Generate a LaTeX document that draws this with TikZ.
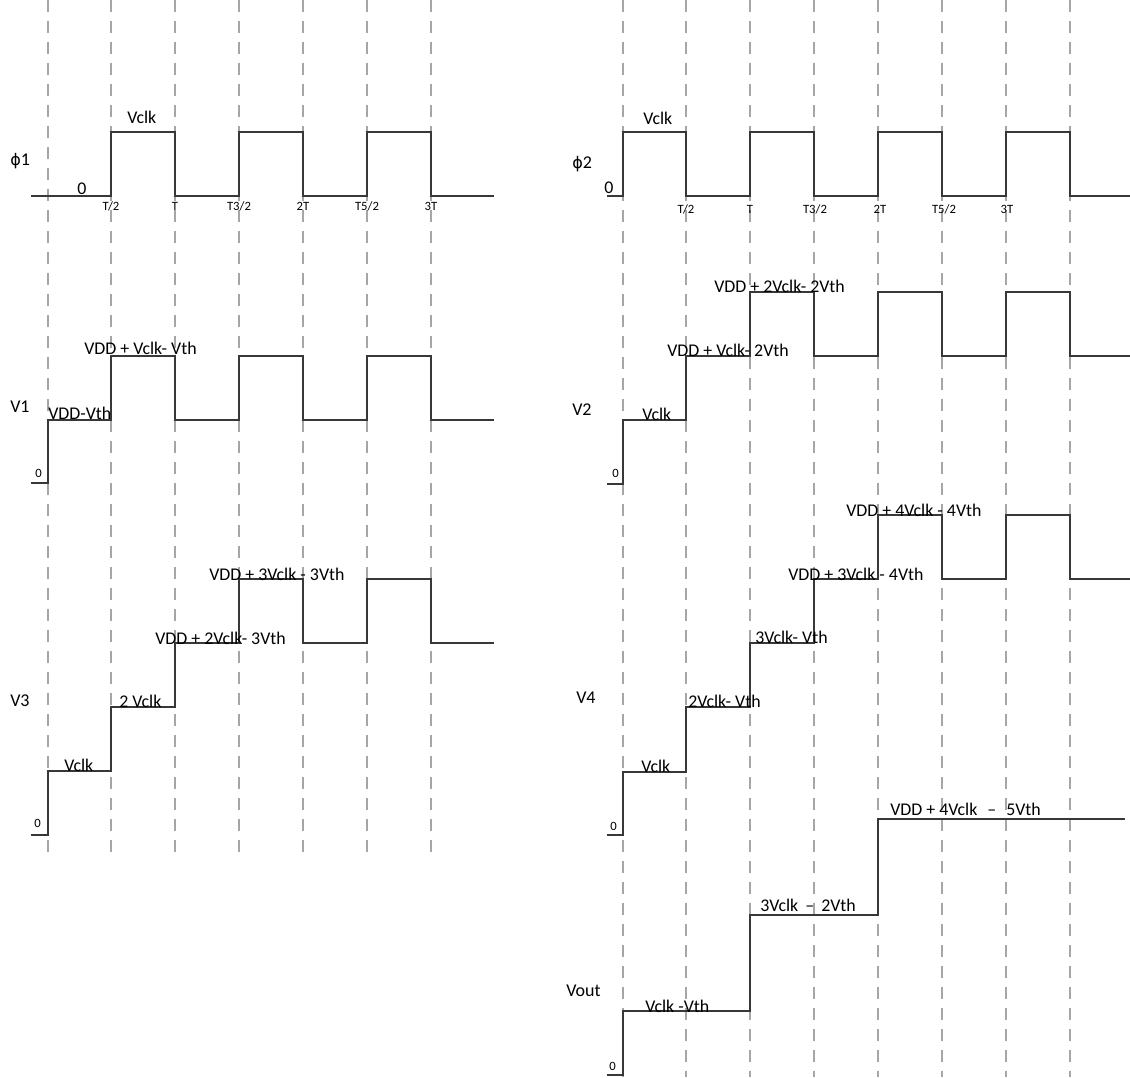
\documentclass[tikz,border=0pt]{standalone}
\usepackage{fontspec}
\setmainfont{Carlito}
\newfontfamily\phifont{DejaVu Sans}
\newcommand{\myphi}{{\phifont\fontsize{12}{14}\selectfont ϕ}}
\begin{document}
\begin{tikzpicture}[x=0.75pt,y=-0.75pt,
  guide/.style={draw=black!35, line width=1.1pt, dash pattern=on 9pt off 6.75pt},
  wave/.style={draw=black!78, line width=1pt, line join=miter},
  rowlbl/.style={font=\fontsize{13.5}{15}\selectfont, inner sep=0pt, anchor=base west},
  lvl/.style={font=\fontsize{13.4}{15}\selectfont, inner sep=0pt, anchor=base west},
  ticklbl/.style={font=\fontsize{9.5}{11}\selectfont, inner sep=0pt, anchor=base},
  zlbl/.style={font=\fontsize{9.5}{11}\selectfont, inner sep=0pt, anchor=base west}]
\path[fill=white,use as bounding box] (0,0) rectangle (1130,1077);

% dashed time guides
\foreach \x in {48,111,175,239,303,367,431} \draw[guide] (\x,0) -- (\x,860);
\foreach \x in {623,686,750,814,878,942,1006,1070} \draw[guide] (\x,0) -- (\x,1077);

% ---------- left column ----------
\draw[wave] (31,196)--(111,196)--(111,132)--(175,132)--(175,196)--(239,196)--(239,132)--(303,132)--(303,196)--(367,196)--(367,132)--(431,132)--(431,196)--(494,196);
\node[rowlbl] (p1) at (10,166) {\myphi 1};
\node[lvl] (p1v) at (127,124) {Vclk};
\node[lvl] (p1z) at (77,194) {0};
\node[ticklbl] (t1) at (111,210) {T/2};
\node[ticklbl] (t2) at (175,210) {T};
\node[ticklbl] (t3) at (239,210) {T3/2};
\node[ticklbl] (t4) at (303,210) {2T};
\node[ticklbl] (t5) at (367,210) {T5/2};
\node[ticklbl] (t6) at (431,210) {3T};

\draw[wave] (31,483)--(48,483)--(48,420)--(111,420)--(111,356)--(175,356)--(175,420)--(239,420)--(239,356)--(303,356)--(303,420)--(367,420)--(367,356)--(431,356)--(431,420)--(494,420);
\node[rowlbl] (v1) at (10,412) {V1};
\node[lvl] (v1a) at (48,419) {VDD-Vth};
\node[lvl] (v1b) at (84,354) {VDD + Vclk- Vth};
\node[zlbl] (v1z) at (35,477) {0};

\draw[wave] (31,835)--(48,835)--(48,771)--(111,771)--(111,707)--(175,707)--(175,643)--(239,643)--(239,579)--(303,579)--(303,643)--(367,643)--(367,579)--(431,579)--(431,643)--(494,643);
\node[rowlbl] (v3) at (10,706) {V3};
\node[lvl] (v3a) at (64,771) {Vclk};
\node[lvl] (v3b) at (119,707) {2 Vclk};
\node[lvl] (v3c) at (155,644) {VDD + 2Vclk- 3Vth};
\node[lvl] (v3d) at (209,580) {VDD + 3Vclk - 3Vth};
\node[zlbl] (v3z) at (34,827) {0};

% ---------- right column ----------
\draw[wave] (607,196)--(623,196)--(623,132)--(686,132)--(686,196)--(750,196)--(750,132)--(814,132)--(814,196)--(878,196)--(878,132)--(942,132)--(942,196)--(1006,196)--(1006,132)--(1070,132)--(1070,196)--(1130,196);
\node[rowlbl] (p2) at (572,168) {\myphi 2};
\node[lvl] (p2v) at (643,125) {Vclk};
\node[lvl] (p2z) at (604,193) {0};
\node[ticklbl] (s1) at (686,213) {T/2};
\node[ticklbl] (s2) at (750,213) {T};
\node[ticklbl] (s3) at (815,213) {T3/2};
\node[ticklbl] (s4) at (880,213) {2T};
\node[ticklbl] (s5) at (944,213) {T5/2};
\node[ticklbl] (s6) at (1007,213) {3T};

\draw[wave] (607,484)--(623,484)--(623,420)--(686,420)--(686,356)--(750,356)--(750,292)--(814,292)--(814,356)--(878,356)--(878,292)--(942,292)--(942,356)--(1006,356)--(1006,292)--(1070,292)--(1070,356)--(1130,356);
\node[rowlbl] (v2) at (572,415) {V2};
\node[lvl] (v2a) at (642,420) {Vclk};
\node[lvl] (v2b) at (667,356) {VDD + Vclk- 2Vth};
\node[lvl] (v2c) at (714,292) {VDD + 2Vclk- 2Vth};
\node[zlbl] (v2z) at (612,477) {0};

\draw[wave] (607,835)--(623,835)--(623,772)--(686,772)--(686,707)--(750,707)--(750,643)--(814,643)--(814,579)--(878,579)--(878,515)--(942,515)--(942,579)--(1006,579)--(1006,515)--(1070,515)--(1070,579)--(1130,579);
\node[rowlbl] (v4) at (576,703) {V4};
\node[lvl] (v4a) at (641,772) {Vclk};
\node[lvl] (v4b) at (688,707) {2Vclk- Vth};
\node[lvl] (v4c) at (755,643) {3Vclk- Vth};
\node[lvl] (v4d) at (788,580) {VDD + 3Vclk - 4Vth};
\node[lvl] (v4e) at (846,516) {VDD + 4Vclk - 4Vth};
\node[zlbl] (v4z) at (610,830) {0};

\draw[wave] (607,1075)--(623,1075)--(623,1011)--(750,1011)--(750,915)--(878,915)--(878,819)--(1125,819);
\node[rowlbl] (vo) at (566,996) {Vout};
\node[lvl] (voa) at (645,1012) {Vclk -Vth};
\node[lvl] (vob) at (760,911) {3Vclk \,–\, 2Vth};
\node[lvl] (voc) at (890,815) {VDD + 4Vclk \,\,–\,\, 5Vth};
\node[zlbl] (voz) at (609,1070) {0};
\end{tikzpicture}
\end{document}
